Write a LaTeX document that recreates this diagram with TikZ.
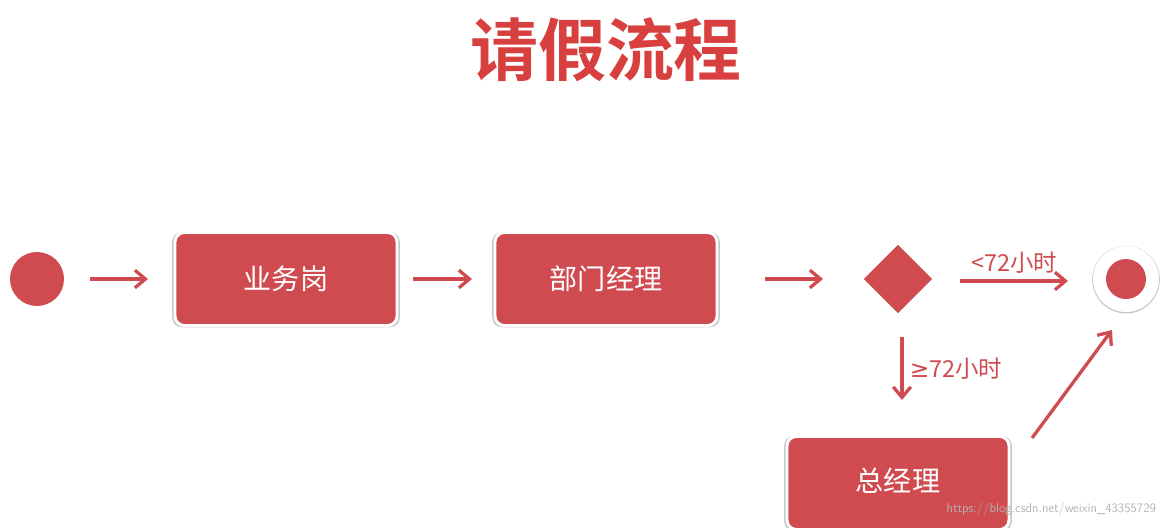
\documentclass[tikz,border=0pt]{standalone}
\usepackage{fontspec}
\newfontfamily\cjk{Noto Sans CJK SC}
\newfontfamily\cjkb{Noto Sans CJK SC Bold}
\newfontfamily\dvs{DejaVu Sans}
\usetikzlibrary{shapes.geometric,arrows.meta,shadows}
\definecolor{rd}{HTML}{D04B50}
\definecolor{tt}{HTML}{D7403F}
\tikzset{
 shd/.style={drop shadow={opacity=0.45,shadow xshift=0pt,shadow yshift=-0.5pt,shadow scale=1.025}},
 box/.style={draw=white,line width=2.5pt,fill=rd,rounded corners=8pt,minimum width=222*0.03cm,minimum height=93*0.03cm,text=white,font=\cjk\fontsize{24}{24}\selectfont,shd},
 arr/.style={-{Straight Barb[length=9pt,width=15pt]},draw=rd,line width=2.8pt},
 lbl/.style={text=rd,font=\cjk\fontsize{20}{20}\selectfont}
}
\begin{document}
\begin{tikzpicture}[x=0.03cm,y=-0.03cm]
\useasboundingbox (0,0) rectangle (1167,527);
\node[text=tt,font=\cjkb\fontsize{58}{58}\selectfont] (title) at (606,50) {请假流程};
\node[circle,fill=rd,minimum size=54*0.03cm,inner sep=0] (start) at (37,279) {};
\node[box] (a) at (286,279) {业务岗};
\node[box] (b) at (606,279) {部门经理};
\node[diamond,draw=white,line width=2.5pt,fill=rd,minimum width=74*0.03cm,minimum height=74*0.03cm,inner sep=0,shd] (d) at (898,279) {};
\node[circle,fill=white,minimum size=66*0.03cm,inner sep=0,shd] (endo) at (1126,279) {};
\node[circle,fill=rd,minimum size=40*0.03cm,inner sep=0] (endi) at (1126,279) {};
\node[box,anchor=north] (c) at (898,435) {};
\node[text=white,font=\cjk\fontsize{24}{24}\selectfont] (ct) at (898,481) {总经理};
\coordinate (s1) at (90,279); \coordinate (e1) at (148,279);
\coordinate (s2) at (413,279); \coordinate (e2) at (472,279);
\coordinate (s3) at (765,279); \coordinate (e3) at (823,279);
\coordinate (s4) at (960,281); \coordinate (e4) at (1068,281);
\coordinate (s5) at (902,337); \coordinate (e5) at (902,400);
\coordinate (s6) at (1032,438); \coordinate (e6) at (1112,330);
\draw[arr] (s1) -- (e1);
\draw[arr] (s2) -- (e2);
\draw[arr] (s3) -- (e3);
\draw[arr] (s4) -- node[lbl,above=2pt] {<72小时} (e4);
\draw[arr] (s5) -- node[lbl,right=2pt] {{\dvs ≥}72小时} (e5);
\draw[arr] (s6) -- (e6);
\node[text=gray!60,font=\fontsize{11}{11}\selectfont\sffamily,anchor=south east] (wm) at (1160,520) {https://blog.csdn.net/weixin\_43355729};
\end{tikzpicture}
\end{document}
